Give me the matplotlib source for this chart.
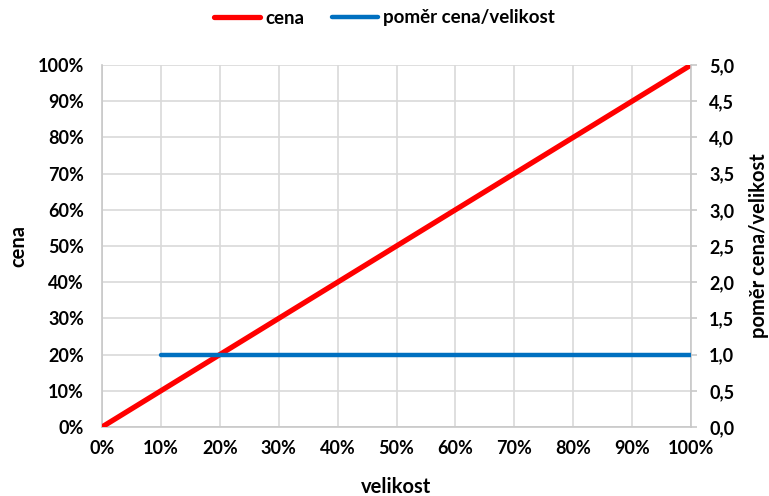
import matplotlib
matplotlib.use("Agg")
import matplotlib.pyplot as plt
from matplotlib.ticker import FuncFormatter

plt.rcParams['font.family'] = ['Lato', 'DejaVu Sans']
plt.rcParams['font.weight'] = 'bold'

velikost = [0, 10, 20, 30, 40, 50, 60, 70, 80, 90, 100]
cena = [0, 10, 20, 30, 40, 50, 60, 70, 80, 90, 100]
pomer_x = [10, 20, 30, 40, 50, 60, 70, 80, 90, 100]
pomer = [1.0, 1.0, 1.0, 1.0, 1.0, 1.0, 1.0, 1.0, 1.0, 1.0]

red = '#ff0000'
blue = '#0070c0'
grid_c = '#d9d9d9'
spine_c = '#c8c8c8'

fig = plt.figure(figsize=(7.69, 4.96), dpi=100)
x0, x1, y0, y1 = 102, 691, 65, 427
ax = fig.add_axes([x0 / 769, 1 - y1 / 496, (x1 - x0) / 769, (y1 - y0) / 496])
ax2 = ax.twinx()

l1, = ax.plot(velikost, cena, color=red, lw=3.8, solid_capstyle='round', label='cena', zorder=3)
l2, = ax2.plot(pomer_x, pomer, color=blue, lw=3.2, solid_capstyle='round', label='poměr cena/velikost', zorder=4)

ax.set_xlim(0, 100)
ax.set_ylim(0, 100)
ax2.set_ylim(0, 5)
ax.set_xticks(range(0, 101, 10))
ax.set_yticks(range(0, 101, 10))
ax2.set_yticks([i * 0.5 for i in range(11)])
ax.xaxis.set_major_formatter(FuncFormatter(lambda v, p: f'{v:.0f}%'))
ax.yaxis.set_major_formatter(FuncFormatter(lambda v, p: f'{v:.0f}%'))
ax2.yaxis.set_major_formatter(FuncFormatter(lambda v, p: f'{v:.1f}'.replace('.', ',')))

ax.grid(True, color=grid_c, lw=1.2)
ax.set_axisbelow(True)
for a in (ax, ax2):
    for s in a.spines.values():
        s.set_visible(False)
for side in ('left', 'bottom'):
    ax.spines[side].set_visible(True)
    ax.spines[side].set_color(spine_c)
    ax.spines[side].set_linewidth(1.2)
ax2.spines['right'].set_visible(True)
ax2.spines['right'].set_color(spine_c)
ax2.spines['right'].set_linewidth(1.2)

ax.tick_params(axis='both', length=0, labelsize=13)
ax.tick_params(axis='x', pad=9)
ax.tick_params(axis='y', pad=13)
ax2.tick_params(axis='y', labelsize=13, length=4, width=1.2, color=spine_c, pad=9)

w, h = x1 - x0, y1 - y0
ax.set_xlabel('velikost', fontsize=14.5, fontweight='bold', va='center')
ax.xaxis.set_label_coords(0.5, (y1 - 487) / h)
ax.set_ylabel('cena', fontsize=14.5, fontweight='bold', va='center')
ax.yaxis.set_label_coords((18 - x0) / w, 0.5)
ax2.set_ylabel('poměr cena/velikost', fontsize=14.5, fontweight='bold', va='center')
ax2.yaxis.set_label_coords((759 - x0) / w, 0.5)

fig.legend(handles=[l1, l2], loc='center', bbox_to_anchor=(0.5, 1 - 18 / 496), ncol=2,
           frameon=False, fontsize=13.5, handlelength=2.45, handletextpad=0.27,
           columnspacing=1.45)

fig.savefig('out.png', dpi=100)
